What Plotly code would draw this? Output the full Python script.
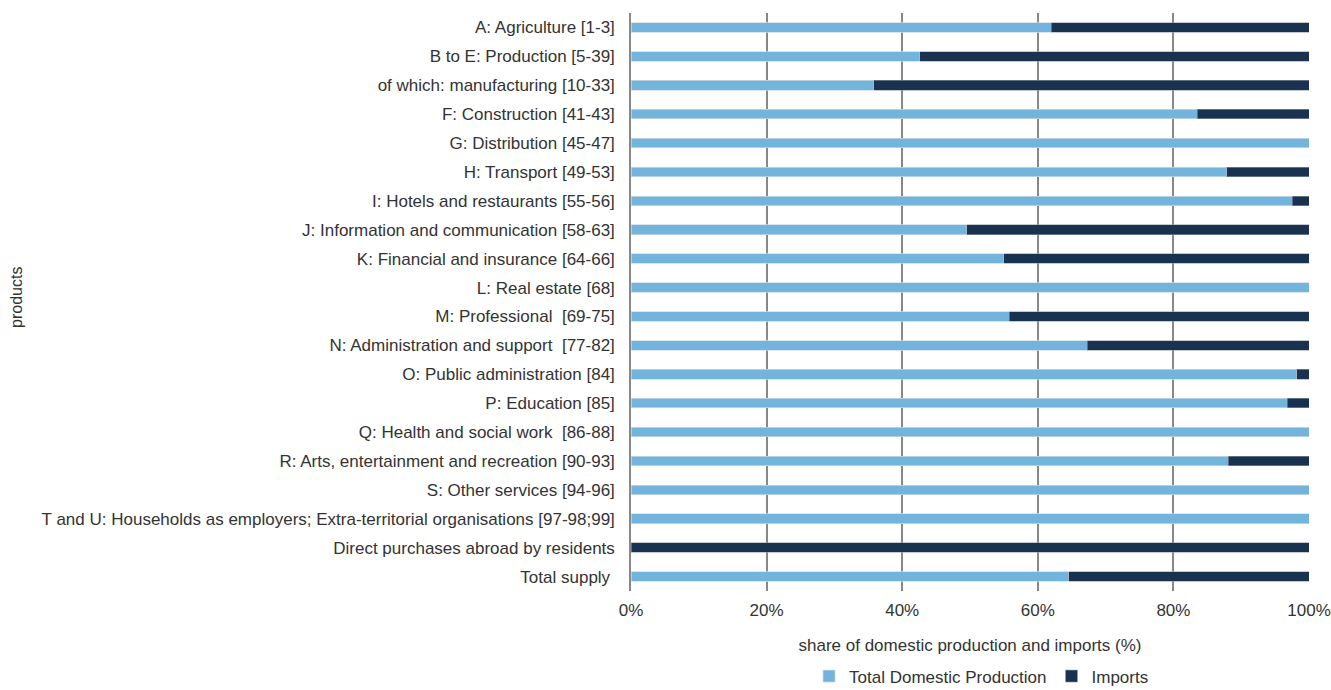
import plotly.graph_objects as go

# Product groups, top to bottom
categories = [
    "A: Agriculture [1-3]",
    "B to E: Production [5-39]",
    "of which: manufacturing [10-33]",
    "F: Construction [41-43]",
    "G: Distribution [45-47]",
    "H: Transport [49-53]",
    "I: Hotels and restaurants [55-56]",
    "J: Information and communication [58-63]",
    "K: Financial and insurance [64-66]",
    "L: Real estate [68]",
    "M: Professional  [69-75]",
    "N: Administration and support  [77-82]",
    "O: Public administration [84]",
    "P: Education [85]",
    "Q: Health and social work  [86-88]",
    "R: Arts, entertainment and recreation [90-93]",
    "S: Other services [94-96]",
    "T and U: Households as employers; Extra-territorial organisations [97-98;99]",
    "Direct purchases abroad by residents",
    "Total supply ",
]

# Share of total supply (%)
domestic = [62.0, 42.6, 35.8, 83.5, 100.0, 87.9, 97.5, 49.5, 55.0, 100.0,
            55.8, 67.3, 98.2, 96.8, 100.0, 88.1, 100.0, 100.0, 0.0, 64.6]
imports = [38.0, 57.4, 64.2, 16.5, 0.0, 12.1, 2.5, 50.5, 45.0, 0.0,
           44.2, 32.7, 1.8, 3.2, 0.0, 11.9, 0.0, 0.0, 100.0, 35.4]

x_ticks = [0, 20, 40, 60, 80, 100]
x_tick_text = ["0%", "20%", "40%", "60%", "80%", "100%"]

# keep doubled / trailing spaces visible in SVG labels
labels = [c.replace("  ", "\u00a0 ").rstrip() + ("\u00a0" if c.endswith(" ") else "")
          for c in categories]

LIGHT = "#73b4dc"
DARK = "#18324f"
TEXT = "#333333"
FONT = "Liberation Sans, Arial, sans-serif"
FS = 17

fig = go.Figure()
fig.add_trace(go.Bar(
    y=labels, x=domestic, orientation="h", name="Total Domestic Production",
    marker=dict(color=LIGHT, line=dict(color="rgba(205,220,232,0.9)", width=0.8)),
))
fig.add_trace(go.Bar(
    y=labels, x=imports, orientation="h", name="Imports",
    marker=dict(color=DARK, line=dict(color="rgba(150,160,170,0.7)", width=0.8)),
))

fig.update_layout(
    barmode="stack",
    bargap=0.67,
    width=1331, height=690,
    margin=dict(l=631, r=22, t=13, b=99, autoexpand=False),
    paper_bgcolor="white", plot_bgcolor="white",
    font=dict(family=FONT, size=FS, color=TEXT),
    showlegend=True,
    legend=dict(
        orientation="h", x=0.517, xanchor="center", y=-0.148, yanchor="middle",
        font=dict(family=FONT, size=FS, color=TEXT),
        itemwidth=30, traceorder="normal",
    ),
    xaxis=dict(
        range=[0, 100], tickvals=x_ticks, ticktext=x_tick_text,
        showgrid=True, gridcolor="#888888", gridwidth=1.5,
        zeroline=False, showline=False, ticks="",
        tickfont=dict(family=FONT, size=FS, color=TEXT),
        ticklabelstandoff=7,
        title=dict(text="share of domestic production and imports (%)",
                   font=dict(family=FONT, size=FS, color=TEXT), standoff=20),
        fixedrange=True,
    ),
    yaxis=dict(
        autorange="reversed", showgrid=False, ticks="",
        showline=True, linecolor="#888888", linewidth=1.5,
        tickfont=dict(family=FONT, size=FS, color=TEXT),
        ticklabelstandoff=11,
        fixedrange=True,
    ),
    annotations=[dict(
        text="products", textangle=-90, xref="paper", yref="paper",
        x=(17 - 631) / 678, y=0.507, xanchor="center", yanchor="middle",
        showarrow=False, font=dict(family=FONT, size=16, color=TEXT),
    )],
)

fig.write_html("out.html")
